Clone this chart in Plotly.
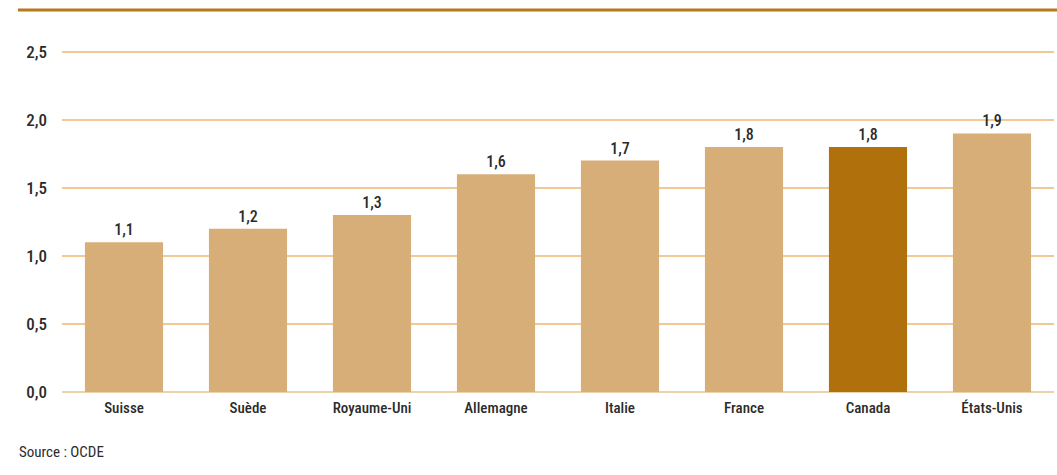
import plotly.graph_objects as go

pays = ["Suisse", "Suède", "Royaume-Uni", "Allemagne", "Italie", "France", "Canada", "États-Unis"]
valeurs = [1.1, 1.2, 1.3, 1.6, 1.7, 1.8, 1.8, 1.9]
pays_mis_en_avant = "Canada"

couleur_base = "#d8ae78"
couleur_accent = "#b0710c"
couleurs = [couleur_accent if p == pays_mis_en_avant else couleur_base for p in pays]
etiquettes = [f"{v:.1f}".replace(".", ",") for v in valeurs]

police = "Roboto Condensed, DejaVu Sans Condensed, sans-serif"
encre = "#2b2b2b"

W, H = 1057, 475
m_l, m_r, m_t, m_b = 62, 3, 49, 83
haut = H - m_t - m_b
larg = W - m_l - m_r

fig = go.Figure(go.Bar(
    x=pays,
    y=valeurs,
    marker=dict(color=couleurs, line=dict(width=0)),
    text=etiquettes,
    textposition="outside",
    textfont=dict(family=police, size=16, color=encre, weight=500),
    cliponaxis=False,
))

fig.update_layout(
    width=W, height=H,
    margin=dict(l=m_l, r=m_r, t=m_t, b=m_b),
    paper_bgcolor="white",
    plot_bgcolor="white",
    bargap=0.37,
    showlegend=False,
    separators=", ",
    font=dict(family=police, color=encre),
    xaxis=dict(
        showgrid=False, showline=False, zeroline=False,
        ticks="", tickfont=dict(family=police, size=15, color=encre, weight=500),
        ticklabelstandoff=5,
    ),
    yaxis=dict(
        range=[0, 2.52], tickvals=[0, 0.5, 1.0, 1.5, 2.0, 2.5], tickformat=".1f",
        showgrid=True, gridcolor="#f2c894", gridwidth=1.5,
        zeroline=True, zerolinecolor="#ecd2ac", zerolinewidth=2,
        showline=False, ticks="",
        tickfont=dict(family=police, size=17, color=encre, weight=500),
        ticklabelstandoff=14,
    ),
    shapes=[dict(
        type="line", xref="paper", yref="paper",
        x0=-(m_l - 18) / larg, x1=1 + m_r / larg,
        y0=1 + (m_t - 10) / haut, y1=1 + (m_t - 10) / haut,
        line=dict(color="#b8791c", width=3),
    )],
    annotations=[dict(
        text="Source : OCDE", xref="paper", yref="paper",
        x=-(m_l - 17) / larg, y=-(452 - 392) / haut,
        xanchor="left", yanchor="middle", showarrow=False,
        font=dict(family=police, size=15, color=encre),
    )],
)

fig.write_html("out.html")
